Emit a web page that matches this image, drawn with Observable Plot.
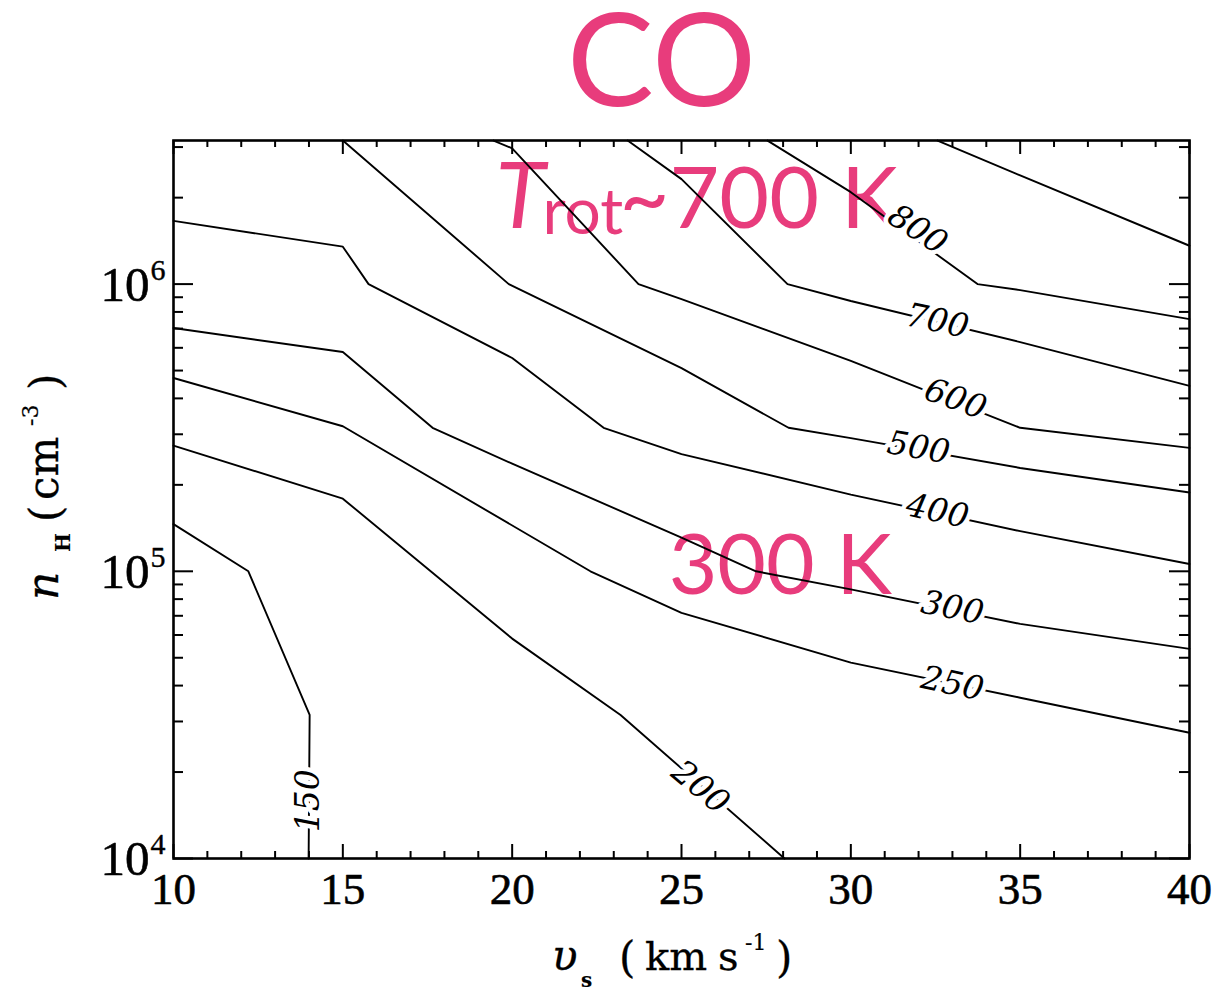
<!DOCTYPE html>
<html><head><meta charset="utf-8">
<script src="https://cdn.jsdelivr.net/npm/d3@7"></script>
<script src="https://cdn.jsdelivr.net/npm/@observablehq/plot@0.6"></script>
<style>body{margin:0;background:#fff}#chart{width:1220px;height:992px}</style>
</head><body><div id="chart"></div>
<script>
// ---- data: contour lines of T (K), vertices as [v_s (km/s), n_H (cm^-3)] ----
const c150 = [[10,1.46e5],[12.21,1.0e5],[14.02,3.16e4],[13.99,1e4]];
const c200 = [[10,2.74e5],[15,1.79e5],[20,5.83e4],[23.2,3.16e4],[28.04,1e4]];
const c250 = [[10,4.71e5],[15,3.2e5],[22.31,1e5],[25,7.17e4],[30,4.81e4],[35,3.63e4],[40,2.74e4]];
const c300 = [[10,7.03e5],[15,5.8e5],[17.65,3.16e5],[20,2.37e5],[25,1.31e5],[27.2,1e5],[30,8.65e4],[35,6.56e4],[40,5.37e4]];
const c400 = [[10,1.66e6],[15,1.35e6],[15.76,1e6],[20,5.53e5],[22.7,3.16e5],[25,2.56e5],[30,1.85e5],[35,1.38e5],[40,1.06e5]];
const c500 = [[15,3.16e6],[19.9,1e6],[25,5.1e5],[28.16,3.16e5],[30,2.91e5],[35,2.29e5],[40,1.88e5]];
const c600 = [[19.45,3.16e6],[20,2.97e6],[23.73,1e6],[25,8.87e5],[30,5.4e5],[35,3.16e5],[40,2.69e5]];
const c700 = [[23.41,3.16e6],[25,2.32e6],[28.13,1e6],[30,8.73e5],[35,6.28e5],[40,4.42e5]];
const c800 = [[27.54,3.16e6],[30,2.09e6],[33.74,1e6],[35,9.53e5],[40,7.55e5]];
const c900 = [[32.56,3.16e6],[35,2.39e6],[40,1.36e6]];
const contourLevels = [150,200,250,300,400,500,600,700,800,900];
const contourLines = [c150,c200,c250,c300,c400,c500,c600,c700,c800,c900];

// contour labels: text, position [v, n], rotation (deg)
const labelText  = ["150","200","250","300","400","500","600","700","800"];
const labelV     = [13.99, 25.56, 33.0, 33.0, 32.56, 32.0, 33.09, 32.56, 31.97];
const labelN     = [1.59e4, 1.77e4, 4.06e4, 7.46e4, 1.62e5, 2.69e5, 3.98e5, 7.43e5, 1.55e6];
const labelAngle = [-90, 40, 12, 11, 12, 10, 20, 12, 33];

// axes
const xDomain = [10, 40];
const yDomain = [1e4, 10 ** 6.5];
const xMajor = [10, 15, 20, 25, 30, 35, 40];
const xMinor = [11,12,13,14,16,17,18,19,21,22,23,24,26,27,28,29,31,32,33,34,36,37,38,39];
const yMajor = [1e4, 1e5, 1e6];
const yMajorExp = ["4", "5", "6"];
const yMinor = [2e4,3e4,4e4,5e4,6e4,7e4,8e4,9e4,2e5,3e5,4e5,5e5,6e5,7e5,8e5,9e5,2e6,3e6];

// annotations
const titleText = "CO";
const trotPos = [19.51, 1.57e6];
const k300Pos = [24.62, 8.36e4];

// ---- layout ----
const W = 1220, H = 992, ML = 173, MR = 31, MT = 140, MB = 134;
const FW = W - ML - MR, FH = H - MT - MB;
const pink = "#e83c7c";
const serif = "'Liberation Serif', serif";
const dserif = "'DejaVu Serif', serif";
const sans = "Lato, 'Open Sans', sans-serif";

const rows = contourLines.flatMap((pts, i) => pts.map(([v, n]) => ({level: contourLevels[i], v, n})));
const labels = labelText.map((t, i) => ({t, v: labelV[i], n: labelN[i], a: labelAngle[i]}));
const ymaj = yMajor.map((y, i) => ({y, e: yMajorExp[i]}));

const plot = Plot.plot({
  width: W, height: H,
  marginLeft: ML, marginRight: MR, marginTop: MT, marginBottom: MB,
  x: {domain: xDomain, axis: null},
  y: {type: "log", domain: yDomain, axis: null},
  style: {background: "white", overflow: "visible"},
  marks: [
    // pink annotations (under the lines)
    Plot.text([trotPos], {x: d => d[0], y: d => d[1], text: () => "T", textAnchor: "start", lineAnchor: "bottom",
      fill: pink, fontFamily: sans, fontStyle: "italic", fontSize: 91}),
    Plot.text([trotPos], {x: d => d[0], y: d => d[1], text: () => "rot", textAnchor: "start", lineAnchor: "bottom",
      dx: 47, dy: 6, fill: pink, fontFamily: sans, fontSize: 64}),
    Plot.text([trotPos], {x: d => d[0], y: d => d[1], text: () => "~700 K", textAnchor: "start", lineAnchor: "bottom",
      dx: 124, fill: pink, fontFamily: sans, fontSize: 86}),
    Plot.text([k300Pos], {x: d => d[0], y: d => d[1], text: () => "300 K", textAnchor: "start", lineAnchor: "bottom",
      fill: pink, fontFamily: sans, fontSize: 84}),
    // title
    Plot.text([titleText], {text: d => d, frameAnchor: "top", dx: -20, dy: -35, lineAnchor: "bottom",
      fill: pink, fontFamily: sans, fontSize: 130}),
    // contour lines
    Plot.line(rows, {x: "v", y: "n", z: "level", stroke: "black", strokeWidth: 1.9}),
    // contour labels with white halo
    Plot.text(labels, {x: "v", y: "n", text: "t", rotate: "a", fill: "black", stroke: "white", strokeWidth: 9,
      fontFamily: dserif, fontStyle: "italic", fontSize: 33}),
    // inward ticks, all four sides
    Plot.tickX(xMajor, {x: d => d, insetTop: FH - 14, stroke: "black", strokeWidth: 2}),
    Plot.tickX(xMajor, {x: d => d, insetBottom: FH - 14, stroke: "black", strokeWidth: 2}),
    Plot.tickX(xMinor, {x: d => d, insetTop: FH - 7, stroke: "black", strokeWidth: 2}),
    Plot.tickX(xMinor, {x: d => d, insetBottom: FH - 7, stroke: "black", strokeWidth: 2}),
    Plot.tickY(yMajor, {y: d => d, insetRight: FW - 20, stroke: "black", strokeWidth: 2}),
    Plot.tickY(yMajor, {y: d => d, insetLeft: FW - 20, stroke: "black", strokeWidth: 2}),
    Plot.tickY(yMinor, {y: d => d, insetRight: FW - 10, stroke: "black", strokeWidth: 2}),
    Plot.tickY(yMinor, {y: d => d, insetLeft: FW - 10, stroke: "black", strokeWidth: 2}),
    Plot.frame({stroke: "black", strokeWidth: 2.6}),
    // tick labels
    Plot.text(xMajor, {x: d => d, text: d => String(d), frameAnchor: "bottom", dy: 45,
      fill: "black", stroke: "black", strokeWidth: 0.6, fontFamily: serif, fontSize: 45}),
    Plot.text(ymaj, {y: "y", text: () => "10", frameAnchor: "left", textAnchor: "end", dx: -24, dy: 1,
      fill: "black", stroke: "black", strokeWidth: 0.6, fontFamily: serif, fontSize: 49}),
    Plot.text(ymaj, {y: "y", text: "e", frameAnchor: "left", textAnchor: "start", dx: -23, dy: -14,
      fill: "black", stroke: "black", strokeWidth: 0.4, fontFamily: serif, fontSize: 30})
  ]
});
document.getElementById("chart").appendChild(plot);

// ---- axis titles with sub/superscripts ----
const svg = d3.select(plot);
function piece(g, txt, x, y, size, opts = {}) {
  const t = g.append("text").attr("x", x).attr("y", y).text(txt)
    .attr("text-anchor", "start")
    .attr("font-family", dserif).attr("font-size", size).attr("fill", "black")
    .attr("stroke", "black").attr("stroke-width", opts.sw ?? 0.3);
  if (opts.italic) t.attr("font-style", "italic");
  if (opts.bold) t.attr("font-weight", "bold");
  return t;
}
const gx = svg.append("g");
piece(gx, "\u03c5", 552, 970, 42, {italic: true});
piece(gx, "s", 581, 987, 20, {bold: true, sw: 0.1});
piece(gx, "(", 619, 972, 42);
piece(gx, "km", 645, 970, 40);
piece(gx, "s", 718, 970, 40);
piece(gx, "-1", 745, 950, 22, {sw: 0.2});
piece(gx, ")", 776, 972, 42);

const gy = svg.append("g").attr("transform", "translate(58,600) rotate(-90)");
piece(gy, "n", 0, 0, 44, {italic: true});
piece(gy, "H", 48, 12, 20, {bold: true, sw: 0.1});
piece(gy, "(", 78, 2, 42);
piece(gy, "cm", 100, 0, 42);
piece(gy, "-3", 174, -20, 22, {sw: 0.2});
piece(gy, ")", 210, 2, 42);
</script>
</body></html>
